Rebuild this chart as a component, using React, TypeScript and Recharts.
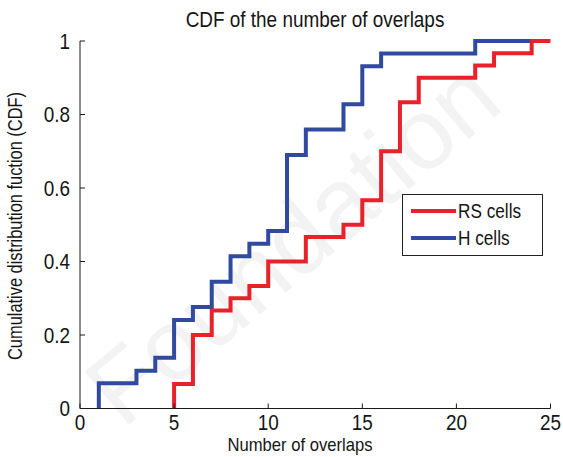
import React from "react";
import { LineChart, Line, XAxis, YAxis } from "recharts";

// Empirical CDF step points (x = number of overlaps, y = cumulative fraction)
const rsX = [5, 5, 6, 7, 8, 9, 10, 12, 14, 15, 16, 17, 18, 21, 22, 24, 25];
const rsY = [0, 0.067, 0.2, 0.267, 0.3, 0.333, 0.4, 0.467, 0.5, 0.567, 0.7, 0.833, 0.9, 0.933, 0.967, 1, 1];
const hX = [1, 1, 3, 4, 5, 6, 7, 8, 9, 10, 11, 12, 14, 15, 16, 21, 25];
const hY = [0, 0.069, 0.103, 0.138, 0.241, 0.276, 0.345, 0.414, 0.448, 0.483, 0.69, 0.759, 0.828, 0.931, 0.966, 1, 1];

const xTicks = [0, 5, 10, 15, 20, 25];
const yTicks = [0, 0.2, 0.4, 0.6, 0.8, 1];

const seriesNames = ["RS cells", "H cells"];
const seriesColors = ["#e8222b", "#2f4a9e"];

const title = "CDF of the number of overlaps";
const xLabel = "Number of overlaps";
const yLabel = "Cumulative distribution fuction (CDF)";
const watermark = "Foundation";

const rsData = rsX.map((x, i) => ({ x, y: rsY[i] }));
const hData = hX.map((x, i) => ({ x, y: hY[i] }));

const FONT = "'Liberation Sans', Arial, Helvetica, sans-serif";
const AXIS = "#1a1a1a";
const TXT = "#151515";
const SQUEEZE = 0.86;

const fmtY = (v: number) => (v === 0 ? "0" : v === 1 ? "1" : String(v));

const XTick = (props: any) => {
  const { x, y, payload } = props;
  return (
    <g transform={`translate(${x},${y}) scale(${SQUEEZE},1)`}>
      <text x={0} y={0} dy="0.71em" textAnchor="middle" fontFamily={FONT} fontSize={22} fill={TXT}>
        {payload.value}
      </text>
    </g>
  );
};

const YTick = (props: any) => {
  const { x, y, payload } = props;
  return (
    <g transform={`translate(${x},${y}) scale(${SQUEEZE},1)`}>
      <text x={0} y={0} dy="0.355em" textAnchor="end" fontFamily={FONT} fontSize={22} fill={TXT}>
        {fmtY(payload.value)}
      </text>
    </g>
  );
};

const narrowText = (fontSize: number, lh?: number): React.CSSProperties => ({
  position: "absolute",
  fontFamily: FONT,
  fontSize,
  lineHeight: `${lh ?? fontSize}px`,
  color: TXT,
  whiteSpace: "nowrap",
});

export default function App() {
  return (
    <div style={{ position: "absolute", left: 0, top: 0, width: 563, height: 457, background: "#fff", overflow: "hidden" }}>
      <div
        style={{
          position: "absolute",
          left: 292,
          top: 242,
          transform: "translate(-50%, -50%) rotate(-40deg)",
          fontFamily: FONT,
          fontSize: 100,
          lineHeight: "100px",
          color: "#f3f3f3",
          whiteSpace: "nowrap",
        }}
      >
        {watermark}
      </div>
      <div style={{ position: "absolute", left: 0, top: 0 }}>
        <LineChart width={563} height={457} margin={{ top: 41, right: 12.5, bottom: 18.5, left: 0 }}>
          <XAxis
            xAxisId="b"
            dataKey="x"
            type="number"
            domain={[0, 25]}
            ticks={xTicks}
            allowDataOverflow
            orientation="bottom"
            height={30}
            tickSize={-5}
            tickMargin={10.5}
            stroke={AXIS}
            tick={<XTick />}
          />
          <XAxis
            xAxisId="t"
            dataKey="x"
            type="number"
            domain={[0, 25]}
            ticks={xTicks}
            orientation="top"
            height={0}
            tickSize={-5}
            tickFormatter={() => ""}
            stroke={AXIS}
          />
          <YAxis
            yAxisId="l"
            type="number"
            domain={[0, 1]}
            ticks={yTicks}
            width={80}
            tickSize={-5}
            tickMargin={15}
            stroke={AXIS}
            tick={<YTick />}
          />
          <YAxis
            yAxisId="r"
            orientation="right"
            type="number"
            domain={[0, 1]}
            ticks={yTicks}
            width={0}
            tickSize={-5}
            tickFormatter={() => ""}
            stroke={AXIS}
          />
          <Line
            xAxisId="b"
            yAxisId="l"
            data={hData}
            dataKey="y"
            name={seriesNames[1]}
            type="stepAfter"
            stroke={seriesColors[1]}
            strokeWidth={4}
            dot={false}
            isAnimationActive={false}
          />
          <Line
            xAxisId="b"
            yAxisId="l"
            data={rsData}
            dataKey="y"
            name={seriesNames[0]}
            type="stepAfter"
            stroke={seriesColors[0]}
            strokeWidth={4}
            dot={false}
            isAnimationActive={false}
          />
        </LineChart>
      </div>

      {/* Legend */}
      <div
        style={{
          position: "absolute",
          left: 402,
          top: 194,
          width: 139,
          height: 60,
          border: "1px solid #222",
          background: "#fff",
        }}
      >
        {seriesNames.map((n, i) => (
          <React.Fragment key={n}>
            <div
              style={{
                position: "absolute",
                left: 8,
                top: (i === 0 ? 16 : 43) - 2,
                width: 45,
                height: 4,
                background: seriesColors[i],
              }}
            />
            <div
              style={{
                ...narrowText(20),
                left: 55,
                top: (i === 0 ? 16 : 43) - 10,
                transform: `scaleX(${SQUEEZE})`,
                transformOrigin: "left center",
              }}
            >
              {n}
            </div>
          </React.Fragment>
        ))}
      </div>

      <div
        style={{
          ...narrowText(22),
          left: 314.5,
          top: 8.7,
          transform: `translateX(-50%) scaleX(${SQUEEZE})`,
        }}
      >
        {title}
      </div>
      <div
        style={{
          ...narrowText(19, 14),
          left: 300,
          top: 438.4,
          transform: `translateX(-50%) scaleX(0.875)`,
        }}
      >
        {xLabel}
      </div>
      <div
        style={{
          ...narrowText(20),
          left: 14.6,
          top: 226,
          transform: `translate(-50%, -50%) rotate(-90deg) scaleX(0.82)`,
        }}
      >
        {yLabel}
      </div>
    </div>
  );
}
